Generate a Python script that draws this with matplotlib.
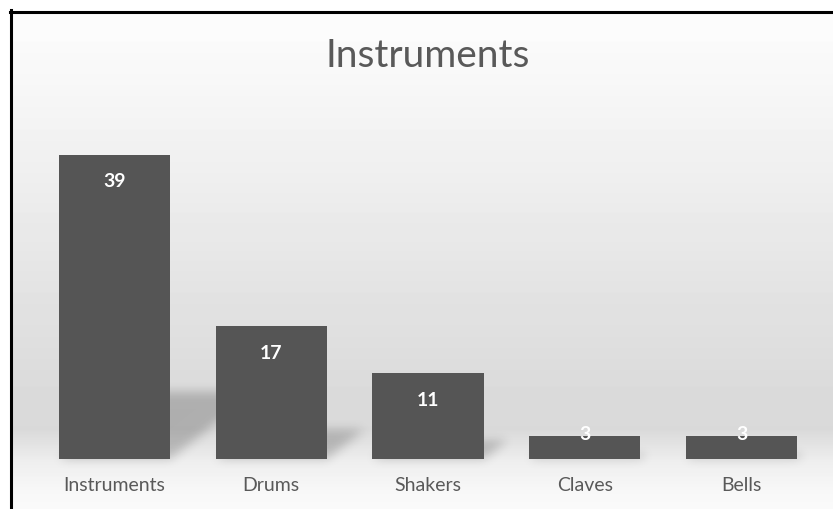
import numpy as np
import matplotlib
matplotlib.use("Agg")
import matplotlib.pyplot as plt
from matplotlib.patches import Polygon
from matplotlib.lines import Line2D

# Chart data
categories = ["Instruments", "Drums", "Shakers", "Claves", "Bells"]
counts = [39, 17, 11, 3, 3]
title = "Instruments"

W, H, DPI = 833, 509, 100
fig = plt.figure(figsize=(W / DPI, H / DPI), dpi=DPI)
fig.patch.set_facecolor("white")

# --- background: soft vertical gradient inside the chart frame ---
bg_ax = fig.add_axes([0, 0, 1, 1], zorder=-5)
bg_ax.set_axis_off()
ys = np.arange(H)
stops_y = [0, 40, 180, 280, 380, 430, 462, 495, 509]
stops_v = [0.990, 0.985, 0.935, 0.895, 0.860, 0.855, 0.935, 0.975, 0.985]
col = np.interp(ys, stops_y, stops_v)
img = np.repeat(col[:, None], W, axis=1)
img[:13, :] = 1.0
img[:, :11] = 1.0
bg_ax.imshow(img, cmap="gray", vmin=0, vmax=1, extent=(0, 1, 0, 1),
             aspect="auto", interpolation="bilinear", origin="upper")
bg_ax.set_xlim(0, 1)
bg_ax.set_ylim(0, 1)

# frame lines (left and top edges of the chart area)
fig.add_artist(Line2D([10.5 / W, 10.5 / W], [0, 1 - 10 / H], color="black",
                      lw=2.2, transform=fig.transFigure))
fig.add_artist(Line2D([10 / W, 1], [1 - 11.5 / H, 1 - 11.5 / H], color="black",
                      lw=2.2, transform=fig.transFigure))

# --- main plot axes ---
ax_l, ax_r = 36 / W, 820 / W
ax_b, ax_t = (H - 459) / H, (H - 147) / H
ax = fig.add_axes([ax_l, ax_b, ax_r - ax_l, ax_t - ax_b])
ax.set_facecolor("none")
ax.set_xlim(-0.5, len(categories) - 0.5)
ax.set_ylim(0, 40)
for s in ax.spines.values():
    s.set_visible(False)
ax.set_yticks([])
x = np.arange(len(categories))
bar_w = 0.71


def blur_filter(sigma_px, alpha, color=(0, 0, 0)):
    def _f(im, dpi):
        pad = int(3 * sigma_px) + 1
        src = np.pad(im, ((pad, pad), (pad, pad), (0, 0)))
        a = src[:, :, 3]
        r = np.arange(-pad, pad + 1)
        k = np.exp(-0.5 * (r / sigma_px) ** 2)
        k /= k.sum()
        tmp = np.zeros_like(a)
        for off, kv in zip(r, k):
            tmp += kv * np.roll(a, off, axis=0)
        out_a = np.zeros_like(a)
        for off, kv in zip(r, k):
            out_a += kv * np.roll(tmp, off, axis=1)
        out = np.empty_like(src)
        out[:, :, :3] = color
        out[:, :, 3] = out_a * alpha
        return out, -pad, -pad
    return _f


# perspective floor shadows cast behind each bar
x_per_unit_y = 0.0139   # horizontal shift per value unit (data x)
y_frac = 0.22           # vertical shadow extent relative to bar height
for xi, v in zip(x, counts):
    x0, x1 = xi - bar_w / 2, xi + bar_w / 2
    dx = x_per_unit_y * v
    dy = y_frac * v
    poly = Polygon([(x0, 0), (x1, 0), (x1 + dx, dy), (x0 + dx, dy)],
                   closed=True, facecolor="black", edgecolor="none", zorder=1)
    poly.set_agg_filter(blur_filter(5.0, 0.2))
    poly.set_rasterized(True)
    ax.add_patch(poly)

ax.bar(x, counts, width=bar_w, color="#555555", zorder=3)

for xi, v in zip(x, counts):
    off = -19.5 if v > 8 else 0.5
    ax.annotate(f"{v}", xy=(xi, v), xytext=(0, off), textcoords="offset points",
                ha="center", va="center", color="white", fontsize=14,
                fontweight="bold", family=["Lato", "DejaVu Sans"], zorder=4)

ax.set_xticks(x)
ax.set_xticklabels(categories, family=["Lato", "DejaVu Sans"], fontsize=14,
                   color="#595959")
ax.tick_params(axis="x", length=0, pad=13)

fig.text((ax_l + ax_r) / 2, 1 - 56 / H, title, ha="center", va="center",
         fontsize=28, color="#595959", family=["Lato", "DejaVu Sans"],
         fontweight="normal")

fig.savefig("out.png", dpi=DPI, facecolor=fig.get_facecolor())
